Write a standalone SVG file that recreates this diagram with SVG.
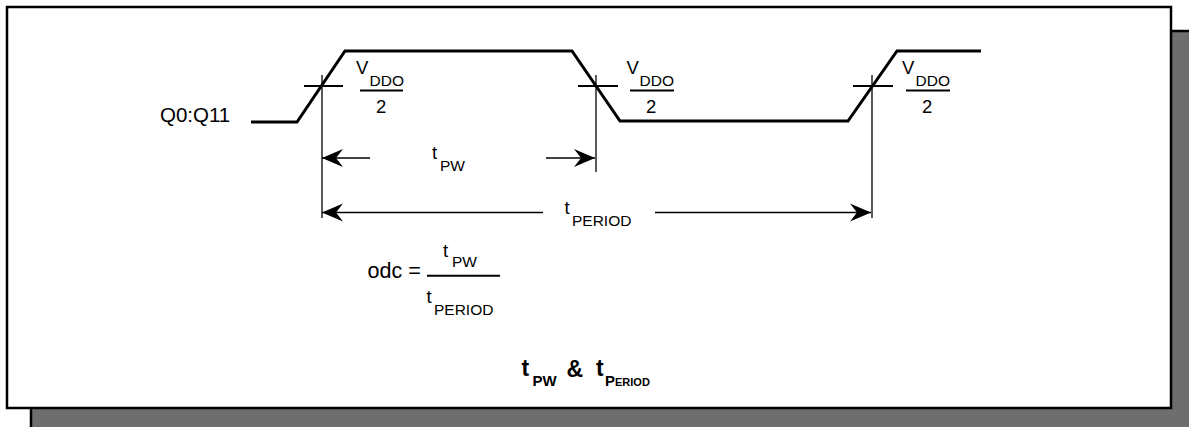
<svg xmlns="http://www.w3.org/2000/svg" width="1189" height="427" viewBox="0 0 1189 427">
<style>
.t{font-family:"Liberation Sans",Arial,sans-serif;fill:#000}
.m{font-size:18.5px}
.s{font-size:15.5px}
.wave{fill:none;stroke:#000;stroke-width:3;stroke-linejoin:miter}
.tick{stroke:#000;stroke-width:2}
.dim{stroke:#000;stroke-width:1.3;fill:none}
.frac{stroke:#000;stroke-width:2}
</style>
<defs>
<marker id="ah" markerUnits="userSpaceOnUse" markerWidth="24" markerHeight="20" refX="21" refY="9" orient="auto" viewBox="0 0 24 18">
<path d="M0,0 L21,9 L0,18 L7,9 Z" fill="#000"/>
</marker>
</defs>
<g id="frame">
<rect x="31" y="31" width="1170" height="410" fill="#6e6e6e" stroke="#000" stroke-width="2.5"/>
<rect x="7" y="7" width="1164" height="401" fill="#fff" stroke="#000" stroke-width="2.5"/>
</g>
<g id="waveform">
<polyline class="wave" points="251,122 297,122 345,51 572,51 620,121 848,121 897,51 981,51"/>
</g>
<g id="connectors">
<line class="tick" x1="304" y1="86" x2="343" y2="86"/>
<line class="tick" x1="578" y1="86" x2="618" y2="86"/>
<line class="tick" x1="853" y1="86" x2="893" y2="86"/>
<line class="dim" x1="322" y1="75" x2="322" y2="218"/>
<line class="dim" x1="596" y1="75" x2="596" y2="172"/>
<line class="dim" x1="872" y1="75" x2="872" y2="218"/>
<line class="dim" x1="370" y1="158" x2="322" y2="158" marker-end="url(#ah)"/>
<line class="dim" x1="546" y1="158" x2="595" y2="158" marker-end="url(#ah)"/>
<line class="dim" x1="543" y1="212.5" x2="322" y2="212.5" marker-end="url(#ah)"/>
<line class="dim" x1="655" y1="212.5" x2="871" y2="212.5" marker-end="url(#ah)"/>
</g>
<g id="label-signal">
<text class="t" x="160" y="122" font-size="20.5">Q0:Q11</text>
</g>
<g id="label-vddo-1">
<text class="t m" x="356" y="74">V</text>
<text class="t s" x="369.5" y="86">DDO</text>
<line class="frac" x1="360" y1="90.5" x2="403" y2="90.5"/>
<text class="t m" x="376" y="112.5">2</text>
</g>
<g id="label-vddo-2">
<text class="t m" x="626.5" y="74">V</text>
<text class="t s" x="639.5" y="86">DDO</text>
<line class="frac" x1="630" y1="90.5" x2="674" y2="90.5"/>
<text class="t m" x="646" y="112.5">2</text>
</g>
<g id="label-vddo-3">
<text class="t m" x="902" y="74">V</text>
<text class="t s" x="915.5" y="86">DDO</text>
<line class="frac" x1="906" y1="90.5" x2="950" y2="90.5"/>
<text class="t m" x="922" y="112.5">2</text>
</g>
<g id="label-tpw">
<text class="t m" x="432" y="159.3">t</text>
<text class="t s" x="440" y="170.7">PW</text>
</g>
<g id="label-tperiod">
<text class="t m" x="564.5" y="214">t</text>
<text class="t s" x="572" y="226">PERIOD</text>
</g>
<g id="label-odc">
<text class="t" x="367.5" y="278" font-size="21.5">odc =</text>
<text class="t m" x="443" y="256.7">t</text>
<text class="t s" x="452" y="267.3">PW</text>
<line class="frac" x1="427" y1="275.7" x2="500" y2="275.7" stroke-width="1.6"/>
<text class="t m" x="426.5" y="303.3">t</text>
<text class="t s" x="434" y="315">PERIOD</text>
</g>
<g id="title">
<text class="t" font-weight="bold" x="521.5" y="376" font-size="23">t</text>
<text class="t" font-weight="bold" x="532.5" y="385.7" font-size="15">PW</text>
<text class="t" font-weight="bold" x="566.5" y="376.7" font-size="23">&amp;</text>
<text class="t" font-weight="bold" x="596" y="376" font-size="23">t</text>
<text class="t" font-weight="bold" x="605" y="385.7" font-size="15">P<tspan font-size="11">ERIOD</tspan></text>
</g>
</svg>
